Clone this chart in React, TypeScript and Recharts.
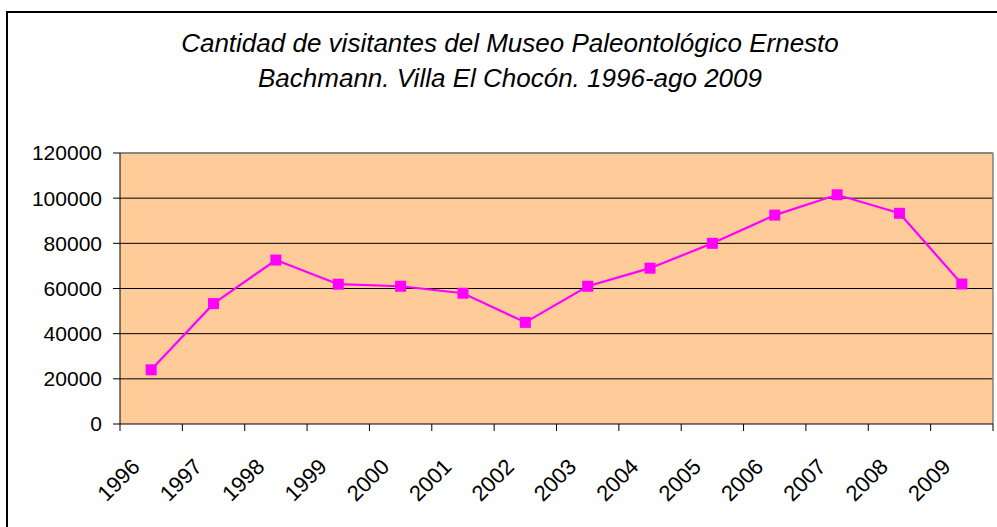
import React from "react";
import {
  LineChart, Line, XAxis, YAxis, CartesianGrid, ReferenceLine,
} from "recharts";

const years = [
  "1996", "1997", "1998", "1999", "2000", "2001", "2002",
  "2003", "2004", "2005", "2006", "2007", "2008", "2009",
];
const visitors = [
  24000, 53300, 72600, 61900, 61000, 57900, 45000,
  61000, 69000, 80000, 92500, 101500, 93300, 62000,
];
const yTicks = [0, 20000, 40000, 60000, 80000, 100000, 120000];
const gridValues = [20000, 40000, 60000, 80000, 100000];

const FONT = "'Liberation Sans', Arial, sans-serif";
const W = 997;
const H = 527;
const M = { top: 153, right: 4, left: 60, bottom: 0 };
const Y_W = 60;
const PLOT_W = W - M.left - Y_W - M.right;
const BAND = PLOT_W / years.length;

const data = years.map((year, i) => ({ year, visitors: visitors[i] }));

function YearTick(props: any) {
  const { x, y, payload, index } = props;
  const tx = x - 10;
  const ty = y + 44;
  return (
    <g>
      <line x1={x - BAND / 2} x2={x - BAND / 2} y1={y} y2={y + 7} stroke="#000" />
      {index === years.length - 1 && (
        <line x1={x + BAND / 2} x2={x + BAND / 2} y1={y} y2={y + 7} stroke="#000" />
      )}
      <text
        x={tx}
        y={ty}
        textAnchor="end"
        transform={`rotate(-45, ${tx}, ${ty})`}
        fontSize={22}
        fontFamily={FONT}
        fill="#000"
      >
        {payload.value}
      </text>
    </g>
  );
}

function Square(props: any) {
  const { cx, cy } = props;
  if (cx == null || cy == null) return null;
  return <rect x={cx - 5.5} y={cy - 5.5} width={11} height={11} fill="#FF00FF" />;
}

export default function App() {
  return (
    <div style={{ position: "absolute", left: 0, top: 0, width: W, height: H, overflow: "hidden", background: "#fff" }}>
      <div
        style={{
          position: "absolute", left: 6, top: 11, width: 1100, height: 700,
          border: "2px solid #000", boxSizing: "border-box",
        }}
      />
      <div
        style={{
          position: "absolute", left: 23, top: 26, width: 974, textAlign: "center",
          fontFamily: FONT, fontStyle: "italic", fontSize: 26, lineHeight: "35px", color: "#000",
        }}
      >
        Cantidad de visitantes del Museo Paleontológico Ernesto
        <br />
        Bachmann. Villa El Chocón. 1996-ago 2009
      </div>
      <div style={{ position: "absolute", left: 0, top: 0 }}>
        <LineChart width={W} height={H} data={data} margin={M}>
          <CartesianGrid
            fill="#FFCC99"
            vertical={false}
            stroke="#000"
            horizontalValues={gridValues}
          />
          <CartesianGrid
            horizontalValues={[120000]}
            verticalPoints={[W - M.right]}
            stroke="#808080"
            strokeWidth={1.5}
          />
          <ReferenceLine y={120000} stroke="#808080" strokeWidth={1.5} />
          <XAxis
            dataKey="year"
            scale="band"
            height={103}
            axisLine={{ stroke: "#000" }}
            tickLine={false}
            tickSize={0}
            tickMargin={0}
            interval={0}
            tick={<YearTick />}
          />
          <YAxis
            width={Y_W}
            domain={[0, 120000]}
            ticks={yTicks}
            interval={0}
            axisLine={{ stroke: "#000" }}
            tickLine={{ stroke: "#000" }}
            tickSize={7}
            tickMargin={11}
            tick={{ fontSize: 21, fontFamily: FONT, fill: "#000" }}
          />
          <Line
            dataKey="visitors"
            stroke="#FF00FF"
            strokeWidth={2.2}
            dot={<Square />}
            activeDot={false}
            isAnimationActive={false}
          />
        </LineChart>
      </div>
    </div>
  );
}
